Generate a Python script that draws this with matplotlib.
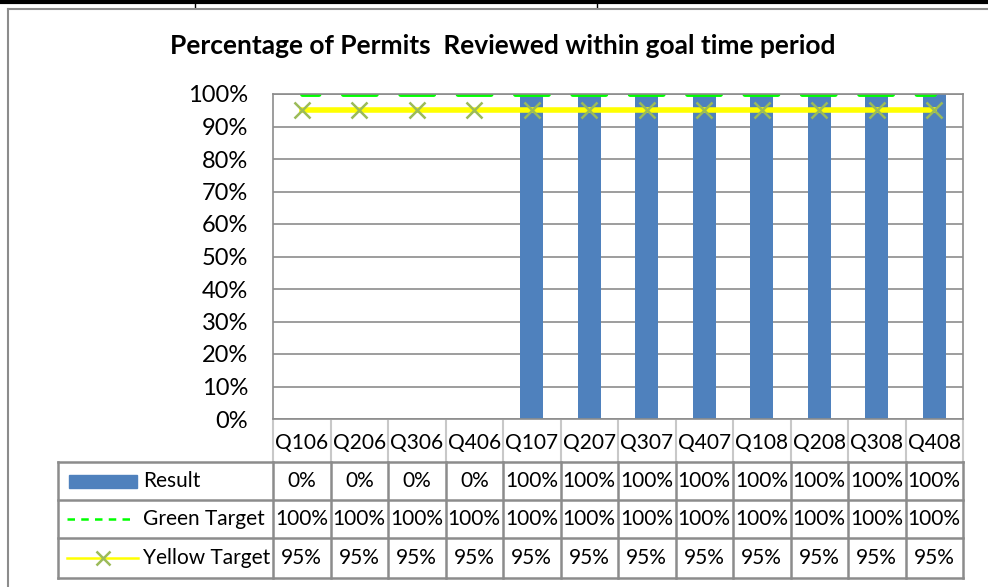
import matplotlib.pyplot as plt
from matplotlib.lines import Line2D
from matplotlib.patches import Rectangle
import matplotlib.transforms as mtransforms
import numpy as np

plt.rcParams['font.family'] = ['Lato', 'DejaVu Sans']

quarters = ['Q106', 'Q206', 'Q306', 'Q406', 'Q107', 'Q207', 'Q307', 'Q407',
            'Q108', 'Q208', 'Q308', 'Q408']
result = [0, 0, 0, 0, 100, 100, 100, 100, 100, 100, 100, 100]
green_target = [100] * 12
yellow_target = [95] * 12
series_names = ['Result', 'Green Target', 'Yellow Target']

W, H = 988, 587
fig = plt.figure(figsize=(W / 100, H / 100), dpi=100)

# document border lines at the top, chart frame
fig.add_artist(Line2D([0, 1], [1 - 1.5 / H, 1 - 1.5 / H], color='black', lw=3))
for xp in (195, 597):
    fig.add_artist(Line2D([xp / W, xp / W], [1, 1 - 7 / H], color='black', lw=1))
fig.add_artist(Line2D([8 / W, 1], [1 - 9 / H, 1 - 9 / H], color='#8c8c8c', lw=1.5))
fig.add_artist(Line2D([8 / W, 8 / W], [0, 1 - 9 / H], color='#8c8c8c', lw=1.5))

ax = fig.add_axes([273 / W, (H - 419) / H, 690 / W, 325 / H])
x = np.arange(len(quarters))
ax.bar(x, result, width=0.4, color='#4f81bd', zorder=2)
# dash length ~38px, period ~57.5px, centred on each point (lw 3.5pt ~ 4.9px)
ax.plot(x, green_target, color='#00ff00', lw=3.5, ls=(3.4, (6.8, 5.0)), zorder=3,
        dash_capstyle='round', clip_on=True)
ax.plot(x, yellow_target, color='#ffff00', lw=4, zorder=3, marker='x',
        markersize=12, markeredgecolor='#9bbb59', markeredgewidth=1.8)

ax.set_xlim(-0.5, len(quarters) - 0.5)
ax.set_ylim(0, 100)
ax.set_yticks(range(0, 101, 10))
ax.set_yticklabels([f'{v}%' for v in range(0, 101, 10)], fontsize=17)
ax.set_xticks([])
ax.tick_params(axis='y', length=0, pad=18)
ax.grid(axis='y', color='#8c8c8c', lw=1.2, zorder=0)
for s in ax.spines.values():
    s.set_color('#8c8c8c')
    s.set_linewidth(1.2)
    s.set_zorder(4)

fig.text(503 / W, 1 - 46 / H, 'Percentage of Permits  Reviewed within goal time period',
         ha='center', va='center', fontsize=19, fontweight='bold')

# data table below the plot
trans = mtransforms.blended_transform_factory(ax.transData, ax.transAxes)
rows = [(419 - p) / 325 for p in (421, 462, 500, 538, 578)]
left = (58 - 273) / 690
grid_c = '#8c8c8c'
light_c = '#c8c8c8'

# header row
for i in range(len(quarters) + 1):
    ax.add_line(Line2D([i - 0.5, i - 0.5], [rows[0], rows[1]], transform=trans,
                       color=light_c, lw=1.5, clip_on=False))
for i, q in enumerate(quarters):
    ax.text(i, (rows[0] + rows[1]) / 2 - 0.004, q, transform=trans, ha='center',
            va='center', fontsize=15)

# body rows
for r in rows[1:]:
    ax.add_line(Line2D([left, 1], [r, r], transform=ax.transAxes,
                       color=grid_c, lw=1.8, clip_on=False))
ax.add_line(Line2D([left, left], [rows[1], rows[4]], transform=ax.transAxes,
                   color=grid_c, lw=1.8, clip_on=False))
for i in range(len(quarters) + 1):
    ax.add_line(Line2D([i - 0.5, i - 0.5], [rows[1], rows[4]], transform=trans,
                       color=grid_c, lw=1.8, clip_on=False))

values = [result, green_target, yellow_target]
for k, vals in enumerate(values):
    yc = (rows[k + 1] + rows[k + 2]) / 2
    for i, v in enumerate(vals):
        ax.text(i, yc, f'{v}%', transform=trans, ha='center', va='center',
                fontsize=15)
    ax.text((143 - 273) / 690, yc, series_names[k], transform=ax.transAxes,
            ha='left', va='center', fontsize=15)

# legend keys
def px(xp):
    return (xp - 273) / 690

y0 = (rows[1] + rows[2]) / 2
ax.add_patch(Rectangle((px(69), y0 - 6.5 / 325), px(137) - px(69), 13 / 325,
                       transform=ax.transAxes, color='#4f81bd', clip_on=False))
y1 = (rows[2] + rows[3]) / 2
ax.add_line(Line2D([px(67), px(133)], [y1, y1], transform=ax.transAxes,
                   color='#00ff00', lw=1.8, ls=(0, (3, 2.5)), clip_on=False))
y2 = (rows[3] + rows[4]) / 2
ax.add_line(Line2D([px(67), px(138)], [y2, y2], transform=ax.transAxes,
                   color='#ffff00', lw=1.8, clip_on=False))
ax.add_line(Line2D([px(103)], [y2], transform=ax.transAxes, marker='x',
                   markersize=10, markeredgecolor='#9bbb59', markeredgewidth=1.8,
                   ls='none', clip_on=False))

fig.savefig('out.png', dpi=100)
